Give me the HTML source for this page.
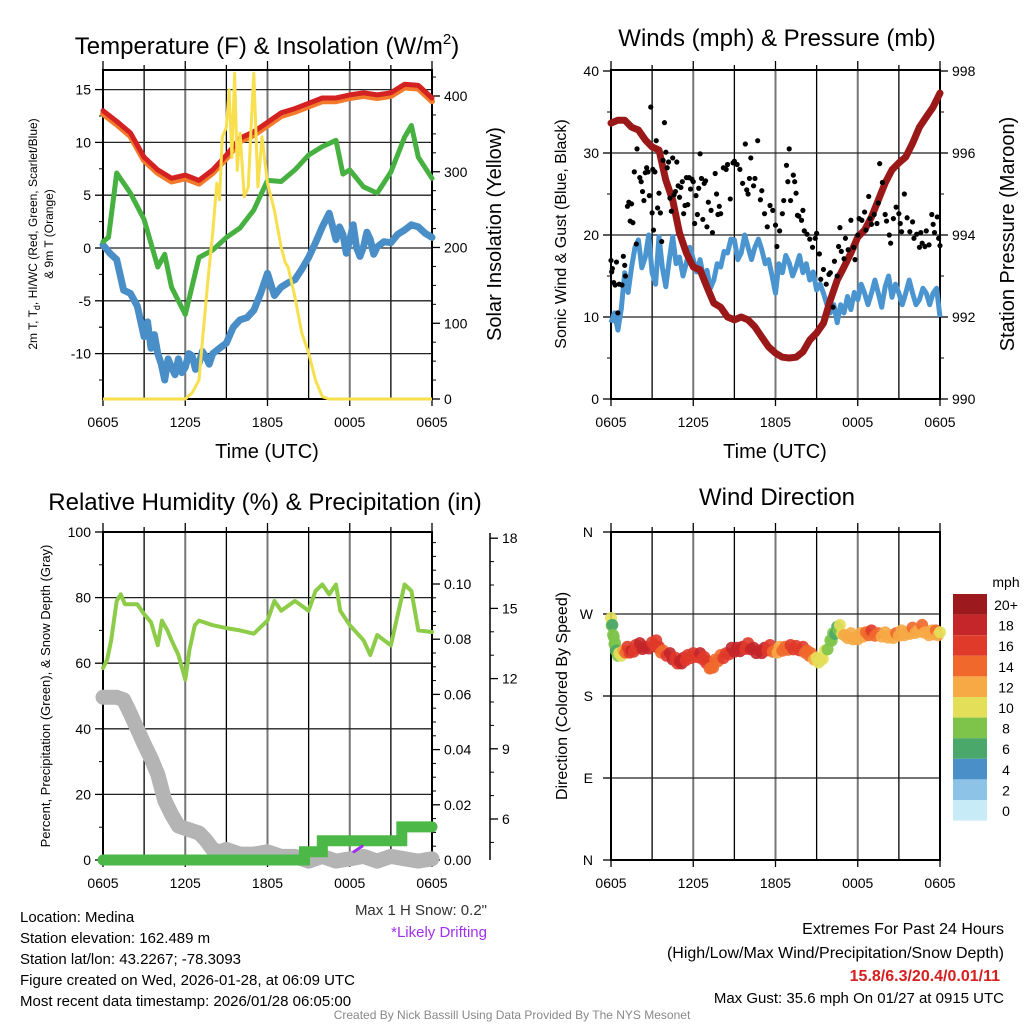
<!DOCTYPE html>
<html><head><meta charset="utf-8">
<style>
html,body{margin:0;padding:0;background:#fff;}
svg text{font-family:"Liberation Sans",Arial,sans-serif;}
</style></head>
<body>
<svg id="c" width="1024" height="1024" viewBox="0 0 1024 1024" xmlns="http://www.w3.org/2000/svg">
<rect width="1024" height="1024" fill="#fff"/>
</svg>
<script>
// ---------- DATA ----------
const xTickLabels = ["0605","1205","1805","0005","0605"];
// Panel 1 temperature
const tempHours = [0,1,2,3,4,5,6,7,8,9,10,11,12,13,14,15,16,17,18,19,20,21,22,23,24];
const tempRed = [13.0,12.0,10.9,8.6,7.4,6.6,6.9,6.4,7.4,8.8,10.4,11.0,11.9,12.8,13.2,13.7,14.2,14.2,14.5,14.7,14.5,14.7,15.5,15.4,14.2];
const tempOrange = [12.7,11.7,10.6,8.3,7.1,6.3,6.6,6.1,7.1,8.5,10.1,10.7,11.6,12.5,12.9,13.4,13.9,13.9,14.2,14.4,14.2,14.4,15.2,15.1,13.9];
const dewHours = [0,0.4,1,2,3,4,4.5,5,6,7,8,9,10,11,12,13,14,15,16,17,17.5,18,19,20,21,22,22.5,23,24];
const dewGreen = [0.6,1.0,7.1,5.2,2.7,-1.8,-0.6,-3.7,-6.3,-0.9,-0.2,1.0,1.9,3.6,6.4,6.3,7.4,8.8,9.6,10.2,7.0,7.4,5.8,5.2,7.2,10.5,11.6,8.6,6.6];
const wcHours = [0,0.5,1,1.5,2,2.5,3,3.25,3.5,3.75,4,4.25,4.5,4.75,5,5.25,5.5,5.75,6,6.25,6.5,6.75,7,7.25,7.5,7.75,8,8.5,9,9.5,10,10.5,11,11.5,12,12.5,13,13.5,14,14.5,15,15.5,16,16.5,17,17.25,17.5,17.75,18,18.25,18.5,18.75,19,19.25,19.5,19.75,20,20.5,21,21.5,22,22.5,23,23.5,24];
const wcBlue = [0.3,-0.5,-1.1,-4.0,-4.3,-5.5,-8.4,-7.0,-9.5,-8.2,-10.0,-11.0,-12.5,-10.5,-11.3,-12.0,-10.5,-11.8,-11.3,-10.0,-10.2,-11.5,-10.9,-9.8,-10.3,-11.0,-10.0,-9.5,-9.0,-7.5,-6.8,-6.6,-5.9,-4.3,-2.4,-4.5,-3.7,-3.3,-3.0,-2.0,-0.9,0.5,2.0,3.3,0.8,2.0,1.3,-0.5,0.8,2.2,0.0,-0.8,0.1,1.5,0.8,-0.6,0.1,0.6,0.5,1.3,1.7,2.2,2.0,1.4,1.0];
const solHours = [0,6,6.5,7,7.3,7.7,8,8.3,8.5,8.7,9,9.2,9.4,9.6,9.8,10,10.3,10.6,10.8,11,11.3,11.6,12,12.5,13,13.3,13.5,14,14.5,15,15.5,16,16.5,24];
const solar = [0,0,8,25,87,166,219,285,263,346,359,408,319,430,302,351,267,280,359,430,280,346,285,249,200,180,174,135,87,61,25,3,0,0];
// Panel 2 winds & pressure (wind sampled every 15 minutes)
const windSpeed = [9.3,10.5,8.4,11,15.4,13,16.1,18.5,19.4,16,17.3,20,15.4,14,19.8,16,13.7,17,19.8,16.5,17.3,15,16.6,18.5,17.0,15.5,17.0,14.8,15.7,13.5,14.5,16.5,16.1,18,17.8,19.5,19.4,17,17.8,20,18.5,17,18.5,19.5,18.2,16.5,17.0,15,12.9,16.5,15.4,17.5,16.6,15,16.1,17.5,15.4,16.5,14.5,15.5,13.3,14,12.9,11.5,10.5,11.5,9.3,11.5,10.5,12.5,10.9,13,12.1,14,12.9,11.5,12.9,14.5,12.9,11.2,13.7,15,12.4,14,12.9,11.5,12.9,14.5,12.9,11.5,12.1,13.5,12.9,11.5,12.9,13.5,10.0];
const pressHours = [0,0.5,1,1.5,2,2.5,3,3.5,4,4.5,5,5.5,6,6.5,7,7.5,8,8.5,9,9.5,10,10.5,11,11.5,12,12.5,13,13.5,14,14.5,15,15.5,16,16.5,17,17.5,18,18.5,19,19.5,20,20.5,21,21.5,22,22.5,23,23.5,24];
const pressure = [996.73,996.8,996.8,996.63,996.56,996.32,996.15,996.07,995.34,994.85,994.05,993.56,993.22,993.15,992.73,992.34,992.24,992.0,991.93,992.0,991.93,991.76,991.51,991.27,991.12,991.02,991.0,991.02,991.15,991.44,991.61,991.85,992.41,992.9,993.22,993.56,993.95,994.12,994.44,994.85,995.27,995.59,995.76,995.9,996.24,996.63,996.88,997.12,997.46];
const gustHours = [0,0.05,0.1,0.2,0.3,0.4,0.5,0.6,0.8,0.9,1.0,1.05,1.2,1.3,1.4,1.5,1.6,1.7,1.9,1.85,2.1,2.2,2.3,2.4,2.5,2.6,2.7,2.8,2.9,3.0,3.05,3.1,3.2,3.3,3.4,3.5,3.6,3.7,3.8,3.9,4.0,4.1,4.2,4.3,4.4,4.5,4.6,4.7,4.8,4.9,5.0,5.1,5.2,5.3,5.4,5.5,5.6,5.7,5.8,5.9,6.0,6.1,6.2,6.3,6.4,6.5,6.6,6.7,6.8,6.9,7.0,7.1,7.3,7.4,7.6,7.7,7.8,7.9,8.0,8.2,8.4,8.5,8.7,8.9,9.0,9.2,9.4,9.6,9.8,9.9,10.0,10.1,10.2,10.4,10.5,10.7,10.9,11.0,11.2,11.4,11.6,11.8,12.0,12.1,12.3,12.5,12.6,12.8,12.9,13.0,13.1,13.3,13.4,13.5,13.6,13.7,13.9,14.0,14.1,14.3,14.5,14.7,14.9,15.0,15.2,15.3,15.5,15.7,15.9,16.0,16.2,16.3,16.5,16.6,16.7,16.8,17.0,17.1,17.3,17.5,17.7,17.8,18.0,18.1,18.3,18.5,18.6,18.8,18.9,19.0,19.2,19.4,19.5,19.6,19.8,20.0,20.1,20.3,20.4,20.6,20.8,21.0,21.1,21.2,21.4,21.6,21.8,22.0,22.1,22.3,22.5,22.6,22.7,22.9,23.0,23.2,23.4,23.5,23.6,23.8,23.9,24.0];
const gustSpeed = [16.9,15.5,15.9,14.2,13.9,16.7,10.5,14.0,13.9,17.4,16.3,15.0,23.5,24.0,21.7,23.8,21.5,27.7,30.5,18.9,27.0,26.5,25.3,24.2,27.6,28.2,27.7,24.8,35.6,22.7,28.0,20.6,27.7,31.5,23.3,25.1,22.7,19.2,29.1,33.7,30.1,28.2,28.9,24.5,22.9,29.4,24.9,25.3,28.9,26.0,24.6,25.8,26.5,22.6,23.6,27.0,23.7,27.0,25.6,26.8,26.5,21.4,24.8,22.5,25.7,29.9,26.9,21.9,26.3,26.6,21.0,24.0,23.0,20.3,27.5,25.0,22.5,23.5,22.6,28.2,28.0,28.6,24.4,28.8,29.0,28.6,28.0,26.3,31.1,25.5,25.0,26.9,29.4,26.0,26.9,31.5,24.3,25.4,22.6,21.0,23.6,23.0,21.2,18.6,20.5,22.6,24.2,28.5,26.5,30.5,24.2,27.3,26.5,25.1,22.4,22.3,21.8,23.0,20.5,20.1,19.5,18.5,19.6,20.2,17.7,14.6,15.8,14.0,15.2,15.4,11.2,16.8,15.0,18.6,20.9,18.0,17.1,19.6,18.2,21.8,18.5,17.0,20.0,22.0,21.8,22.8,20.6,24.7,22.0,21.3,22.5,21.4,23.9,28.7,26.4,22.5,21.7,20.0,19.0,22.0,23.4,22.6,21.4,20.4,25.0,22.1,20.4,21.6,19.6,20.1,18.5,20.3,19.0,18.6,20.5,18.8,22.5,21.3,20.3,22.2,19.6,18.7];
// Panel 3 RH / precip / snow
const rhHours = [0,0.3,0.6,1,1.3,1.6,2,2.5,3,3.5,4,4.3,4.7,5,5.5,6,6.3,6.7,7,8,9,10,11,12,12.5,13,14,15,15.5,16,16.5,17,17.3,18,19,19.5,20,20.5,21,21.5,22,22.5,23,24];
const rh = [58.5,61,67,79,81,78,78,78,75,72.5,65.5,73,70,67,62.5,55,64,71.6,73,71.6,70.7,70,69,73,79,76,79,76,82,84,81,84,76,71.6,67,62.5,68.6,67,65.5,74.7,84,82,70,69.5];
const snowHours = [0,1,1.5,2,3,3.5,4,4.5,5,5.5,6,6.5,7,7.5,8,8.5,9,9.5,10,11,12,13,14,15,16,17,18,19,20,21,22,23,24];
const snowDepth = [11.2,11.2,11.1,10.5,9.2,8.6,7.9,6.8,6.2,5.7,5.6,5.5,5.4,5.1,4.7,4.6,4.7,4.6,4.5,4.5,4.6,4.4,4.4,4.2,4.4,4.2,4.3,4.4,4.2,4.4,4.3,4.2,4.3];
const precipHours = [0,14.7,14.7,16,16,21.8,21.8,24];
const precip = [0,0,0.003,0.003,0.007,0.007,0.012,0.012];
const driftHours = [18.3,18.9];
const driftVals = [0.003,0.005];
// Panel 4 wind direction
const dirHours = [0,0.1,0.2,0.3,0.4,0.6,0.9,1.2,1.5,1.8,2.1,2.5,3,3.3,3.5,3.8,4.3,4.7,5,5.3,5.6,6,6.5,6.8,7.1,7.3,7.6,8,8.4,8.8,9.2,9.6,10,10.4,10.8,11.2,11.6,12,12.3,12.7,13.1,13.5,14,14.3,14.6,15,15.3,15.6,16,16.2,16.5,16.7,17,17.5,17.8,18.2,18.6,19,19.5,20,20.4,20.8,21.2,21.6,22,22.4,22.7,23,23.4,23.7,24];
const dirDeg = [265.6,258,245,238,230,227,230,234,230,236,238,234,239,241,234,230,227,222,218,222,225,227,227,223,218,211,220,225,227,233,233,234,238,233,230,233,236,230,234,234,236,235,234,230,227,222,220,230,241,249,256,258,247,249,244,249,250,252,249,250,247,249,252,250,255,252,258,250,252,252,250];
const dirSpeed = [10,7,9,9,7,10,13,16,18,17,18,19,17,17,16,14,19,17,18,18,16,17,18,17,16,14,14,15,17,18,19,18,17,19,18,18,17,14,13,15,16,17,16,15,14,11,11,10,9,8,7,11,12,12,13,12,14,16,14,12,13,14,12,13,14,12,15,12,13,14,11];
const cbLabels = ["20+","18","16","14","12","10","8","6","4","2","0"];
const cbColors = ["#9c1a1e","#c4262a","#e03a2a","#f0682c","#f6a945","#e4df58","#7ec44a","#4aa86a","#4a8fc8","#8cc3e6","#c8ebf8"];

// ---------- HELPERS ----------
const NS="http://www.w3.org/2000/svg";
const svg=document.getElementById('c');
function mk(tag,attrs,parent){const e=document.createElementNS(NS,tag);for(const k in attrs)e.setAttribute(k,attrs[k]);(parent||svg).appendChild(e);return e;}
function txt(s,x,y,size,anchor,extra){const e=mk('text',Object.assign({x:x,y:y,'font-size':size,'text-anchor':anchor||'start',fill:'#000'},extra||{}));e.textContent=s;return e;}
function pathFrom(xs,ys,fx,fy){let d='';for(let i=0;i<xs.length;i++){d+=(i?'L':'M')+fx(xs[i]).toFixed(1)+','+fy(ys[i]).toFixed(1);}return d;}

function frame(x0,x1,y0,y1,hLinesY,name){
  const g=mk('g',{});
  
  
  for(let i=1;i<8;i++){const x=x0+(x1-x0)*i/8;
    mk('line',{x1:x,y1:y0,x2:x,y2:y1,stroke:i%2?'#000':'#777','stroke-width':i%2?1.3:2},g);}
  hLinesY.forEach(y=>{mk('line',{x1:x0,y1:y,x2:x1,y2:y,stroke:'#222','stroke-width':1.3},g);});
  const b=mk('rect',{x:x0,y:y0,width:x1-x0,height:y1-y0,fill:'none',stroke:'#000','stroke-width':2});
  
  
  for(let i=0;i<=8;i++){const x=x0+(x1-x0)*i/8;mk('line',{x1:x,y1:y1,x2:x,y2:y1+(i%2?0:7),stroke:'#000','stroke-width':1.3});
    mk('line',{x1:x,y1:y0,x2:x,y2:y0-(i%2?5:9),stroke:'#000','stroke-width':1.3});}
  xTickLabels.forEach((s,i)=>{const t=txt(s,x0+(x1-x0)*i/4,y1+28,14,'middle');
    
    });
}
function yAxisTicks(x,vals,fy,side,fmt,name,minorVals){
  vals.forEach(v=>{const y=fy(v);mk('line',{x1:x,y1:y,x2:x+(side<0?-8:8),y2:y,stroke:'#000','stroke-width':1.3});
    const t=txt(fmt(v),side<0?x-12:x+12,y+5,14,side<0?'end':'start');
    
    });
  (minorVals||[]).forEach(v=>{const y=fy(v);mk('line',{x1:x,y1:y,x2:x+(side<0?-4:4),y2:y,stroke:'#000','stroke-width':1});});
}
function range(a,b,s){const r=[];for(let v=a;v<=b+1e-9;v+=s)r.push(+v.toFixed(4));return r;}

// ---------- PANEL 1 ----------
(function(){
  const X0=103,X1=432,Y0=70,Y1=399;
  const fx=h=>X0+(X1-X0)*h/24;
  const fy=v=>248-v*10.56;
  const fyS=v=>399-v*0.7575;
  frame(X0,X1,Y0,Y1,[-10,-5,0,5,10,15].map(fy),'temperature-panel');
  yAxisTicks(X0,[-10,-5,0,5,10,15],fy,-1,v=>String(v),'temp-y-axis',range(-12.5,12.5,5).concat([-7.5]));
  yAxisTicks(X1,[0,100,200,300,400],fyS,1,v=>String(v),'solar-y-axis',range(25,425,25).filter(v=>v%100));
  const sets=[[wcHours,wcBlue,'#4a8ec8',7,'blue-windchill-line'],[dewHours,dewGreen,'#46b040',5,'green-dewpoint-line'],[tempHours,tempOrange,'#f37a2a',6,'orange-9m-temp-line'],[tempHours,tempRed,'#d42222',5,'red-2m-temp-line']];
  sets.forEach(s=>{const p=mk('path',{d:pathFrom(s[0],s[1],fx,fy),fill:'none',stroke:s[2],'stroke-width':s[3],'stroke-linejoin':'round','stroke-linecap':'round'});
    
    });
  const ps=mk('path',{d:pathFrom(solHours,solar,fx,fyS),fill:'none',stroke:'#f7df4e','stroke-width':3,'stroke-linejoin':'round'});
  
  
})();

// ---------- PANEL 2 ----------
(function(){
  const X0=611,X1=940,Y0=70,Y1=399;
  const fx=h=>X0+(X1-X0)*h/24;
  const fy=v=>399-v*8.2;
  const fyP=v=>399-(v-990)*41;
  frame(X0,X1,Y0,Y1,[10,20,30].map(fy),'winds-panel');
  yAxisTicks(X0,[0,10,20,30,40],fy,-1,v=>String(v),'wind-y-axis',[5,15,25,35]);
  yAxisTicks(X1,[990,992,994,996,998],fyP,1,v=>String(v),'pressure-y-axis',[991,993,995,997]);
  const windHours = windSpeed.map((_,i)=>i*24/(windSpeed.length-1));
  const pw=mk('path',{d:pathFrom(windHours,windSpeed,fx,fy),fill:'none',stroke:'#4a94d0','stroke-width':5,'stroke-linejoin':'round'});
  
  
  const pp=mk('path',{d:pathFrom(pressHours,pressure,fx,fyP),fill:'none',stroke:'#9b1818','stroke-width':7,'stroke-linejoin':'round','stroke-linecap':'round'});
  
  
  gustHours.forEach((h,i)=>{const c=mk('circle',{cx:fx(h),cy:fy(gustSpeed[i]),r:2.6,fill:'#000'});
    
    });
})();

// ---------- PANEL 3 ----------
(function(){
  const X0=103,X1=432,Y0=532,Y1=860;
  const fx=h=>X0+(X1-X0)*h/24;
  const fy=v=>860-v*3.28;
  const fyP=v=>860-v*2760;
  const fyS=v=>819-(v-6)*23.4;
  frame(X0,X1,Y0,Y1,[20,40,60,80].map(fy),'humidity-panel');
  yAxisTicks(X0,[0,20,40,60,80,100],fy,-1,v=>String(v),'rh-y-axis',[10,30,50,70,90]);
  yAxisTicks(X1,[0,0.02,0.04,0.06,0.08,0.10],fyP,1,v=>v.toFixed(2),'precip-y-axis',[0.005,0.01,0.015,0.025,0.03,0.035,0.045,0.05,0.055,0.065,0.07,0.075,0.085,0.09,0.095,0.105,0.11,0.115]);
  const ax=mk('line',{x1:490,y1:533,x2:490,y2:860,stroke:'#000','stroke-width':1.5});
  
  
  yAxisTicks(490,[6,9,12,15,18],fyS,1,v=>String(v),'snow-y-axis',[5,7,8,10,11,13,14,16,17]);
  const sd=mk('path',{d:pathFrom(snowHours,snowDepth,fx,fyS),fill:'none',stroke:'#b4b4b4','stroke-width':15,'stroke-linejoin':'round','stroke-linecap':'round'});
  
  
  const pr=mk('path',{d:pathFrom(precipHours,precip,fx,fyP),fill:'none',stroke:'#4cb848','stroke-width':11,'stroke-linecap':'round'});
  
  
  const dr=mk('path',{d:pathFrom(driftHours,driftVals,fx,fyP),fill:'none',stroke:'#a030f0','stroke-width':3,'stroke-linecap':'round'});
  
  
  const rl=mk('path',{d:pathFrom(rhHours,rh,fx,fy),fill:'none',stroke:'#8ccc48','stroke-width':4,'stroke-linejoin':'round','stroke-linecap':'round'});
  
  
})();

// ---------- PANEL 4 ----------
(function(){
  const X0=611,X1=940,Y0=532,Y1=860;
  const fx=h=>X0+(X1-X0)*h/24;
  const fy=d=>860-d*(328/360);
  frame(X0,X1,Y0,Y1,[90,180,270].map(fy),'direction-panel');
  const dl=["N","E","S","W","N"];
  [0,90,180,270,360].forEach((d,i)=>{const y=fy(d);mk('line',{x1:X0,y1:y,x2:X0-8,y2:y,stroke:'#000','stroke-width':1.3});
    const t=txt(dl[i],X0-18,y+5,14,'end');
    
    });
  function col(s){let k=Math.min(10,Math.floor(s/2));return cbColors[10-k];}
  dirHours.forEach((h,i)=>{const c=mk('circle',{cx:fx(h),cy:fy(dirDeg[i]),r:6,fill:col(dirSpeed[i]),'fill-opacity':0.9});
    
    
    if(i<dirHours.length-1){const c2=mk('circle',{cx:(fx(h)+fx(dirHours[i+1]))/2,cy:(fy(dirDeg[i])+fy(dirDeg[i+1]))/2+4,r:6,fill:col((dirSpeed[i]+dirSpeed[i+1])/2),'fill-opacity':0.9});
      
      }});
  const t0=txt("mph",1006,587,14,'middle');
  
  
  cbLabels.forEach((l,i)=>{const y=594+i*20.6;
    const r=mk('rect',{x:953,y:y,width:34,height:20.6,fill:cbColors[i]});
    
    
    const t=txt(l,1006,y+16,14,'middle');
    
    });
})();
</script>
<script>
(function(){
const NS="http://www.w3.org/2000/svg";const svg=document.getElementById('c');
function T(s,x,y,size,anchor,name,extra){const e=document.createElementNS(NS,'text');e.setAttribute('x',x);e.setAttribute('y',y);e.setAttribute('font-size',size);e.setAttribute('text-anchor',anchor);e.setAttribute('fill','#000');
 if(extra)for(const k in extra)e.setAttribute(k,extra[k]);
 
 
 e.innerHTML=s;svg.appendChild(e);return e;}
T('Temperature (F) &amp; Insolation (W/m<tspan font-size="15" dy="-10">2</tspan><tspan dy="10">)</tspan>',267,54,24,'middle','temperature-title');
T('Winds (mph) &amp; Pressure (mb)',777,46,24,'middle','winds-title');
T('Relative Humidity (%) &amp; Precipitation (in)',265,510,24,'middle','humidity-title');
T('Wind Direction',777,505,24,'middle','direction-title');
T('Time (UTC)',267,458,20,'middle','temp-x-axis-title');
T('Time (UTC)',775,458,20,'middle','winds-x-axis-title');
T('2m T, T<tspan font-size="9" dy="3">d</tspan><tspan dy="-3">, HI/WC (Red, Green, Scarlet/Blue)</tspan>',0,0,12,'middle','temp-y-axis-title',{transform:'translate(37,234) rotate(-90)'});
T('&amp; 9m T (Orange)',0,0,12,'middle','temp-y-axis-title-line2',{transform:'translate(53,234) rotate(-90)'});
T('Solar Insolation (Yellow)',0,0,20,'middle','solar-y-axis-title',{transform:'translate(501,234) rotate(-90)'});
T('Sonic Wind &amp; Gust (Blue, Black)',0,0,16,'middle','wind-y-axis-title',{transform:'translate(566,234) rotate(-90)'});
T('Station Pressure (Maroon)',0,0,20,'middle','pressure-y-axis-title',{transform:'translate(1014,234) rotate(-90)'});
T('Percent, Precipitation (Green), &amp; Snow Depth (Gray)',0,0,13,'middle','rh-y-axis-title',{transform:'translate(50,696) rotate(-90)'});
T('Direction (Colored By Speed)',0,0,16,'middle','direction-y-axis-title',{transform:'translate(567,696) rotate(-90)'});
T('Max 1 H Snow: 0.2"',487,915,15,'end','max-snow-note',{fill:'#333'});
T('*Likely Drifting',487,937,15,'end','drifting-note',{fill:'#a030f0'});
const L=['Location: Medina','Station elevation: 162.489 m','Station lat/lon: 43.2267; -78.3093','Figure created on Wed, 2026-01-28, at 06:09 UTC','Most recent data timestamp: 2026/01/28 06:05:00'];
L.forEach((s,i)=>T(s,20,922+i*21,15,'start','station-info-line'));
T('Extremes For Past 24 Hours',1004,934,16,'end','extremes-title');
T('(High/Low/Max Wind/Precipitation/Snow Depth)',1004,958,16,'end','extremes-subtitle');
T('15.8/6.3/20.4/0.01/11',1000,981,16,'end','extremes-values',{fill:'#d42020','font-weight':'bold'});
T('Max Gust: 35.6 mph On 01/27 at 0915 UTC',1004,1003,15,'end','max-gust-note');
T('Created By Nick Bassill Using Data Provided By The NYS Mesonet',512,1019,12,'middle','credit-footer',{fill:'#888'});
})();
</script>
</body></html>
